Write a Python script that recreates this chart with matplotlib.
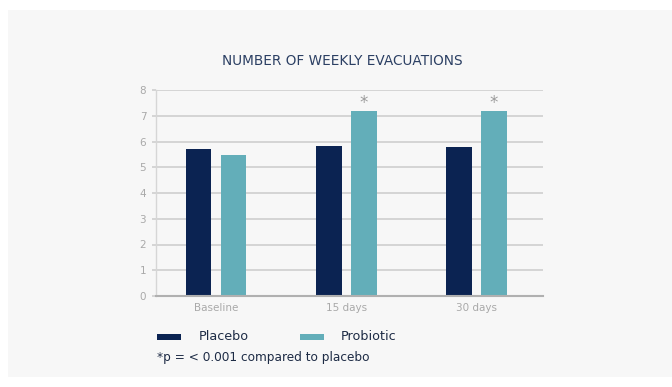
import numpy as np
import matplotlib.pyplot as plt
from matplotlib.patches import Rectangle

# Datos: evacuaciones semanales por grupo
categories = ['Baseline', '15 days', '30 days']
placebo = [5.70, 5.83, 5.77]
probiotic = [5.48, 7.19, 7.19]
significant = [False, True, True]

navy = '#0b2352'
teal = '#63aeb9'
grid_gray = '#cbcbcb'
label_gray = '#a9a9a9'
panel = '#f7f7f7'

plt.rcParams['font.family'] = ['DejaVu Sans']

fig = plt.figure(figsize=(6.72, 3.87), dpi=100, facecolor='white')

# Panel gris de fondo
fig.patches.append(Rectangle((8 / 672, 1 - 377 / 387), 664 / 672, 367 / 387,
                             transform=fig.transFigure, facecolor=panel,
                             edgecolor='none', zorder=-10))

ax = fig.add_axes([156 / 672, 1 - 296 / 387, 387 / 672, 206 / 387])
ax.set_facecolor(panel)

x = np.arange(len(categories))
w = 0.196
off = 0.134
ax.bar(x - off, placebo, w, color=navy, zorder=3)
bars = ax.bar(x + off, probiotic, w, color=teal, zorder=3)

# Asteriscos de significancia
for b, s in zip(bars, significant):
    if s:
        ax.text(b.get_x() + b.get_width() / 2, b.get_height() + 0.3, '*',
                ha='center', va='center', color='#9a9a9a', fontsize=12)

ax.set_xlim(-0.462, 2.51)
ax.set_ylim(0, 8)
ax.set_yticks(range(0, 9))
ax.set_xticks(x)
ax.set_xticklabels(categories)
ax.yaxis.grid(True, color=grid_gray, linewidth=1.1, zorder=0)
ax.set_axisbelow(True)

for side in ['top', 'right']:
    ax.spines[side].set_visible(False)
ax.spines['left'].set_color('#d6d6d6')
ax.spines['left'].set_linewidth(1.0)
ax.spines['bottom'].set_color('#b0b0b0')
ax.spines['bottom'].set_linewidth(1.5)
ax.spines['bottom'].set_zorder(4)

ax.tick_params(axis='y', length=3, width=1.1, color=grid_gray,
               labelcolor=label_gray, labelsize=7.5, pad=4)
ax.tick_params(axis='x', length=0, labelcolor=label_gray, labelsize=7.5, pad=5)

fig.text(342 / 672, 1 - 61 / 387, 'NUMBER OF WEEKLY EVACUATIONS',
         ha='center', va='center', color='#2b3f63', fontsize=9.8)

# Leyenda manual
fig.patches.append(Rectangle((157 / 672, 1 - 340 / 387), 24 / 672, 6 / 387,
                             transform=fig.transFigure, facecolor=navy,
                             edgecolor='none'))
fig.text(199 / 672, 1 - 337 / 387, 'Placebo', ha='left', va='center',
         color='#1d2b45', fontsize=9.2)
fig.patches.append(Rectangle((300 / 672, 1 - 340 / 387), 24 / 672, 6 / 387,
                             transform=fig.transFigure, facecolor=teal,
                             edgecolor='none'))
fig.text(341 / 672, 1 - 337 / 387, 'Probiotic', ha='left', va='center',
         color='#1d2b45', fontsize=9.2)

fig.text(157 / 672, 1 - 357 / 387, '*p = < 0.001 compared to placebo',
         ha='left', va='center', color='#1d2b45', fontsize=8.7)

plt.savefig('out.png', dpi=100, facecolor='white')
